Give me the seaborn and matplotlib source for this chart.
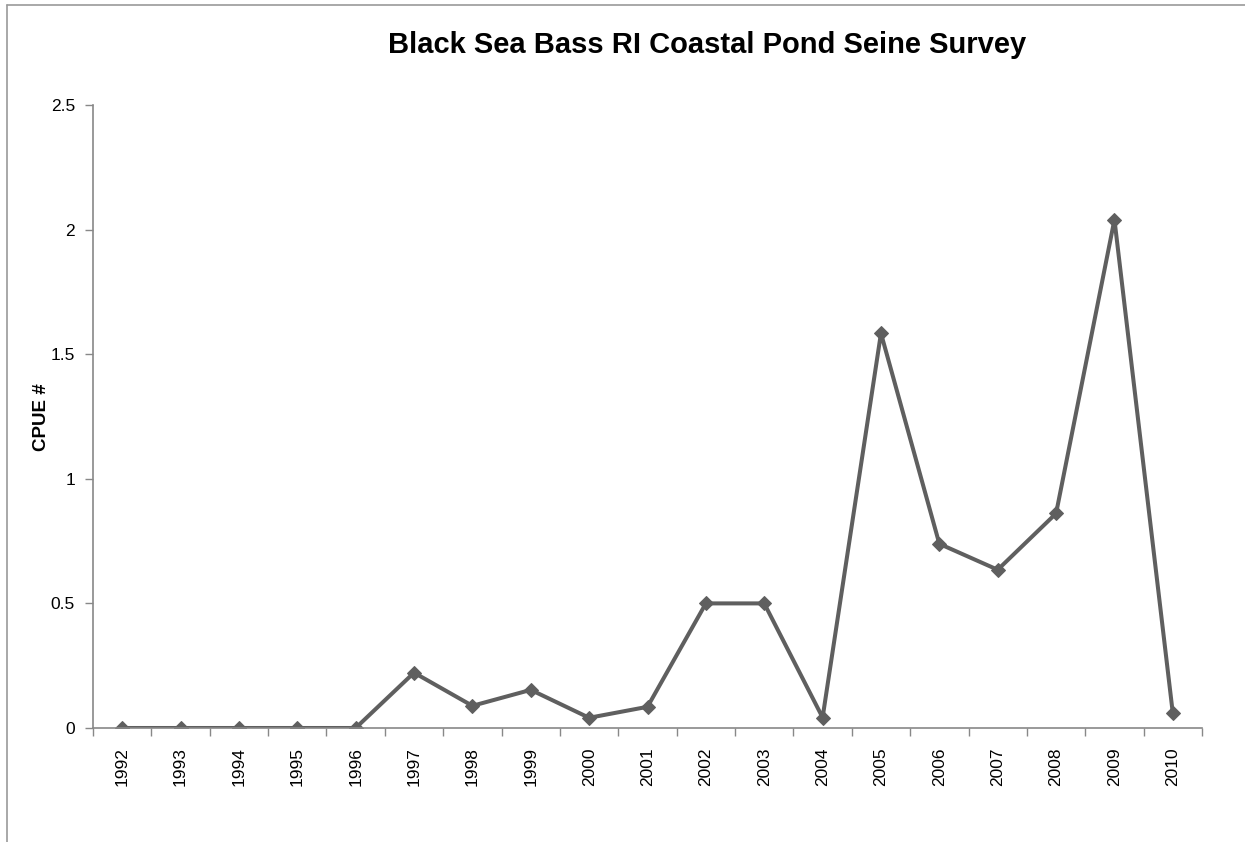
import matplotlib
matplotlib.use("Agg")
import matplotlib.pyplot as plt
import seaborn as sns
import pandas as pd
from matplotlib.lines import Line2D

years = ["1992", "1993", "1994", "1995", "1996", "1997", "1998", "1999", "2000", "2001",
         "2002", "2003", "2004", "2005", "2006", "2007", "2008", "2009", "2010"]
cpue = [0.0, 0.0, 0.0, 0.0, 0.0, 0.222, 0.089, 0.153, 0.041, 0.085,
        0.5, 0.5, 0.042, 1.584, 0.739, 0.635, 0.861, 2.04, 0.059]
y_ticks = [0, 0.5, 1, 1.5, 2, 2.5]
y_tick_labels = ["0", "0.5", "1", "1.5", "2", "2.5"]

sns.set_theme(style="white")
plt.rcParams["font.family"] = ["Liberation Sans", "DejaVu Sans"]

W, H = 1245, 842
fig = plt.figure(figsize=(W / 100, H / 100), dpi=100)
ax = fig.add_axes([93 / W, 1 - 728 / H, (1202 - 93) / W, (728 - 105) / H])

df = pd.DataFrame({"pos": list(range(len(years))), "cpue": cpue})
sns.lineplot(data=df, x="pos", y="cpue", ax=ax, color="#5f5f5f", linewidth=2.9,
             marker="D", markersize=7.5, markeredgecolor="#5f5f5f", markerfacecolor="#5f5f5f")

ax.set_xlim(-0.5, len(years) - 0.5)
ax.set_ylim(0, 2.5)
ax.set_xticks(range(len(years)))
ax.set_xticklabels(years, rotation=90, fontsize=12.5, color="black")
ax.set_xticks([i - 0.5 for i in range(len(years) + 1)], minor=True)
ax.tick_params(axis="x", which="major", length=0, pad=14)
ax.tick_params(axis="x", which="minor", length=6, width=1, color="#888888", direction="out", bottom=True)
ax.set_yticks(y_ticks)
ax.set_yticklabels(y_tick_labels, fontsize=12.5, color="black")
ax.tick_params(axis="y", which="major", length=6, width=1, color="#888888", direction="out", left=True, pad=7)

for s in ["top", "right"]:
    ax.spines[s].set_visible(False)
for s in ["left", "bottom"]:
    ax.spines[s].set_visible(True)
    ax.spines[s].set_color("#888888")
    ax.spines[s].set_linewidth(1.2)
ax.grid(False)
ax.set_xlabel("")
ax.set_ylabel("")

fig.text(707 / W, 1 - 45 / H, "Black Sea Bass RI Coastal Pond Seine Survey",
         ha="center", va="center", fontsize=21, fontweight="bold", color="black")
fig.text(42 / W, 1 - 417 / H, "CPUE #", ha="center", va="center", rotation=90,
         fontsize=13.5, fontweight="bold", color="black")

# outer chart frame (partially visible)
fig.add_artist(Line2D([7 / W, 7 / W], [0, 1 - 5 / H], transform=fig.transFigure,
                      color="#9a9a9a", linewidth=1.2))
fig.add_artist(Line2D([7 / W, 1], [1 - 5 / H, 1 - 5 / H], transform=fig.transFigure,
                      color="#9a9a9a", linewidth=1.2))

fig.savefig("out.png", dpi=100, facecolor="white")
